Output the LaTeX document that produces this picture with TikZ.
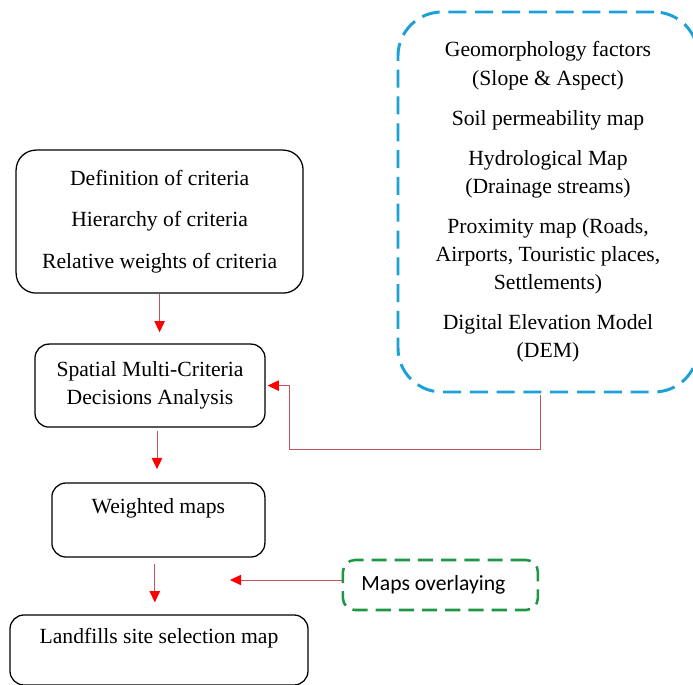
\documentclass[tikz,border=0pt]{standalone}
\usepackage{fontspec}
\setmainfont{Liberation Serif}
\newfontfamily\calibri{Carlito}
\usetikzlibrary{arrows.meta}
\definecolor{dashblue}{RGB}{28,160,214}
\definecolor{dashgreen}{RGB}{30,150,70}
\definecolor{linkred}{RGB}{196,84,90}

\begin{document}
\begin{tikzpicture}[
		box/.style={draw, line width=0.9pt, rounded corners=0.35cm, align=center,
			font=\fontsize{15.4}{20}\selectfont},
		flow/.style={draw=linkred, line width=0.7pt,
			-{Triangle[length=0.28cm, width=0.26cm, red]}}
	]
			\useasboundingbox (0,0) rectangle (17.325,-17.125);

			\node (crit)[box, rounded corners=0.5cm, minimum width=7.175cm, minimum height=3.575cm] at (3.99, -5.54)
				{Definition of criteria\\[9.5pt] Hierarchy of criteria\\[9.5pt] Relative weights of criteria};
			\node (smcda)[box, minimum width=5.75cm, minimum height=2.075cm] at (3.75, -9.64)
				{Spatial Multi-Criteria\\ Decisions Analysis};
			\node (wmaps)[box, minimum width=5.325cm, minimum height=1.85cm] at (3.96, -13.0)
				{Weighted maps\\ \mbox{}};
			\node (lsel)[box, minimum width=7.45cm, minimum height=1.75cm] at (3.975, -16.25)
				{Landfills site selection map\\ \mbox{}};

			\node (data)[box, draw=dashblue, line width=2.1pt, rounded corners=1.1cm,
				dash pattern=on 0.45cm off 0.22cm, minimum width=7.5cm, minimum height=9.5cm] at (13.7, -5.05)
				{Geomorphology factors\\ (Slope \& Aspect)\\[8.5pt]
				Soil permeability map\\[8.5pt]
				Hydrological Map\\ (Drainage streams)\\[8.5pt]
				Proximity map (Roads,\\ Airports, Touristic places,\\ Settlements)\\[8.5pt]
				Digital Elevation Model\\ (DEM)};

			\node (ovl)[box, draw=dashgreen, line width=1.8pt, rounded corners=0.3cm,
				dash pattern=on 0.38cm off 0.2cm, minimum width=4.875cm, minimum height=1.25cm,
				font=\calibri\fontsize{15.4}{20}\selectfont] at (11.01, -14.625) {\hspace*{-0.35cm}Maps overlaying};

			\coordinate (bend) at (7.225, -11.225);
			\coordinate (ovlend) at (5.75, -14.5);

			\draw[flow, shorten >=0.28cm] (crit.south) -- (crit.south |- smcda.north);
			\draw[flow, shorten <=0.08cm, shorten >=0.33cm] ([xshift=0.175cm]smcda.south) -- ([xshift=0.175cm]smcda.south |- wmaps.north);
			\draw[flow, shorten <=0.15cm, shorten >=0.3cm] ([xshift=-0.09cm]wmaps.south) -- ([xshift=-0.09cm]wmaps.south |- lsel.north);
			\draw[flow] (ovl.west |- ovlend) -- (ovlend);
			\draw[flow, shorten <=0.05cm, shorten >=0.05cm] ([xshift=-0.2cm]data.south) |- (bend) |- (smcda.east);
		\end{tikzpicture}
\end{document}
